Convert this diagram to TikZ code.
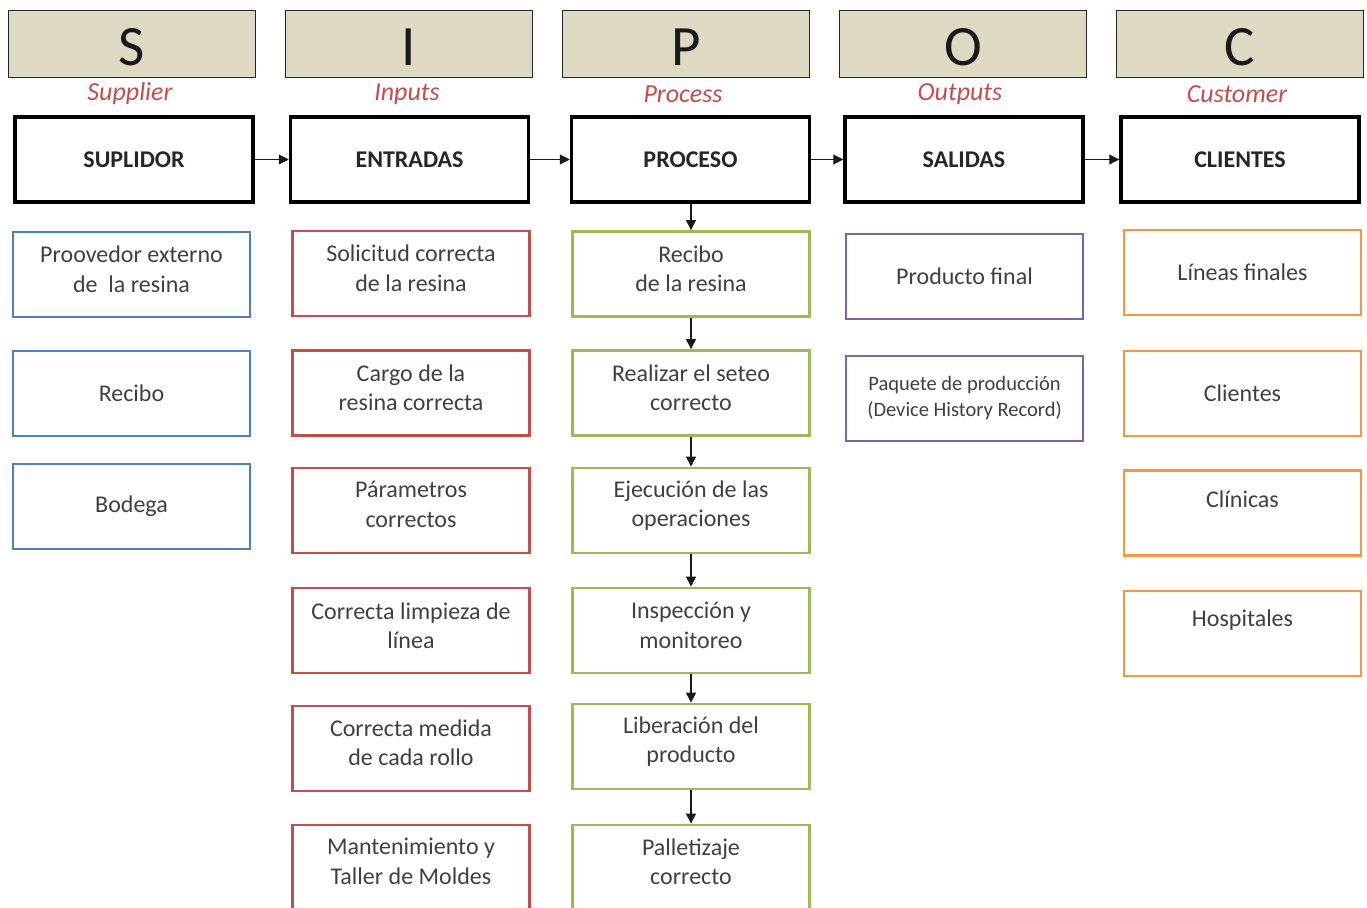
\documentclass[tikz,border=0pt]{standalone}
\usepackage{fontspec}
\setmainfont{Carlito}
\usetikzlibrary{arrows.meta}
\definecolor{tanc}{HTML}{DDD9C3}
\definecolor{bluec}{HTML}{4F81BD}
\definecolor{redc}{HTML}{C0504D}
\definecolor{greenc}{HTML}{9BBB59}
\definecolor{purplec}{HTML}{8064A2}
\definecolor{orangec}{HTML}{F79646}
\definecolor{txt}{HTML}{404040}
\tikzset{
  hdr/.style={draw=black!85, line width=1.8pt, fill=tanc, minimum width=247pt, minimum height=67pt, inner sep=0pt},
  hdrtxt/.style={inner sep=0pt, font=\fontsize{57}{60}\selectfont, text=black!90},
  sub/.style={font=\fontsize{26}{28}\selectfont\itshape, text=redc, inner sep=0pt},
  mainbox/.style={draw=black, line width=3.5pt, minimum width=238pt, minimum height=85pt, inner sep=0pt, font=\fontsize{24}{28}\selectfont\bfseries, text=black!85},
  item/.style={line width=2.8pt, minimum width=237pt, minimum height=85pt, inner sep=0pt},
  itxt/.style={inner sep=0pt, align=center, font=\fontsize{24}{29.5}\selectfont, text=txt},
  bitem/.style={item, draw=bluec},
  ritem/.style={item, draw=redc},
  gitem/.style={item, draw=greenc},
  pitem/.style={item, draw=purplec},
  oitem/.style={item, draw=orangec},
  arr/.style={draw=black!90, line width=1.1pt, -{Triangle[length=10pt,width=10pt]}}
}
\begin{document}
\begin{tikzpicture}[x=1pt,y=-1pt]
\clip (0,0) rectangle (1367,907);
\fill[white] (0,0) rectangle (1367,907);
% headers
\node[hdr] (hS) at (132,44) {};
\node[hdr] (hI) at (409,44) {};
\node[hdr] (hP) at (686,44) {};
\node[hdr] (hO) at (963,44) {};
\node[hdr] (hC) at (1240,44) {};
\node[hdrtxt] (hSt) at ([yshift=-3pt]hS.center) {S};
\node[hdrtxt] (hIt) at ([yshift=-3pt]hI.center) {I};
\node[hdrtxt] (hPt) at ([yshift=-3pt]hP.center) {P};
\node[hdrtxt] (hOt) at ([yshift=-3pt]hO.center) {O};
\node[hdrtxt] (hCt) at ([yshift=-3pt]hC.center) {C};
% subtitles
\node[sub] (sS) at (130,94) {Supplier};
\node[sub] (sI) at (407,94) {Inputs};
\node[sub] (sP) at (683,94) {Process};
\node[sub] (sO) at (960,94) {Outputs};
\node[sub] (sC) at (1237,94) {Customer};
% main boxes
\node[mainbox] (mS) at (134,159.5) {SUPLIDOR};
\node[mainbox] (mI) at (409.5,159.5) {ENTRADAS};
\node[mainbox] (mP) at (690.5,159.5) {PROCESO};
\node[mainbox] (mO) at (964,159.5) {SALIDAS};
\node[mainbox] (mC) at (1240,159.5) {CLIENTES};
\draw[arr] (mS) -- (mI);
\draw[arr] (mI) -- (mP);
\draw[arr] (mP) -- (mO);
\draw[arr] (mO) -- (mC);
% suppliers
\node[bitem] (b1) at (131.5,274.5) {};
\node[itxt] (b1t) at ([yshift=5pt]b1.center) {Proovedor externo\\de\ \ la resina};
\node[bitem] (b2) at (131.5,393.5) {};
\node[itxt] (b2t) at (b2.center) {Recibo};
\node[bitem] (b3) at (131.5,506.5) {};
\node[itxt] (b3t) at (b3.center) {Bodega};
% inputs
\node[ritem] (r1) at (411,273.5) {};
\node[itxt] (r1t) at ([yshift=5pt]r1.center) {Solicitud correcta\\de la resina};
\node[ritem] (r2) at (411,393) {};
\node[itxt] (r2t) at ([yshift=5pt]r2.center) {Cargo de la\\resina correcta};
\node[ritem] (r3) at (411,510.5) {};
\node[itxt] (r3t) at ([yshift=6pt]r3.center) {Párametros\\correctos};
\node[ritem] (r4) at (411,630.5) {};
\node[itxt] (r4t) at ([yshift=5pt]r4.center) {Correcta limpieza de\\línea};
\node[ritem] (r5) at (411,748.5) {};
\node[itxt] (r5t) at ([yshift=6pt]r5.center) {Correcta medida\\de cada rollo};
\node[ritem] (r6) at (411,867.5) {};
\node[itxt] (r6t) at ([yshift=6pt]r6.center) {Mantenimiento y\\Taller de Moldes};
% process
\node[gitem] (g1) at (691,274) {};
\node[itxt] (g1t) at ([yshift=5pt]g1.center) {Recibo\\de la resina};
\node[gitem] (g2) at (691,393) {};
\node[itxt] (g2t) at ([yshift=5pt]g2.center) {Realizar el seteo\\correcto};
\node[gitem] (g3) at (691,510.5) {};
\node[itxt] (g3t) at ([yshift=5pt]g3.center) {Ejecución de las\\operaciones};
\node[gitem] (g4) at (691,630.5) {};
\node[itxt] (g4t) at ([yshift=5pt]g4.center) {Inspección y\\monitoreo};
\node[gitem] (g5) at (691,746.5) {};
\node[itxt] (g5t) at ([yshift=5pt]g5.center) {Liberación del\\producto};
\node[gitem] (g6) at (691,867.5) {};
\node[itxt] (g6t) at ([yshift=6pt]g6.center) {Palletizaje\\correcto};
\draw[arr] (mP.south -| g1.north) -- (g1.north);
\draw[arr] (g1) -- (g2);
\draw[arr] (g2) -- (g3);
\draw[arr] (g3) -- (g4);
\draw[arr] (g4) -- (g5);
\draw[arr] (g5) -- (g6);
% outputs
\node[pitem] (p1) at (964.5,276.5) {};
\node[itxt] (p1t) at (p1.center) {Producto final};
\node[pitem] (p2) at (964.5,398.5) {};
\node[itxt, font=\fontsize{20.5}{26}\selectfont] (p2t) at (p2.center) {Paquete de producción\\(Device History Record)};
% customers
\node[oitem] (o1) at (1242.5,272.5) {};
\node[itxt] (o1t) at (o1.center) {Líneas finales};
\node[oitem] (o2) at (1242.5,393.5) {};
\node[itxt] (o2t) at (o2.center) {Clientes};
\node[oitem] (o3) at (1242.5,513) {};
\node[itxt] (o3t) at ([yshift=14pt]o3.center) {Clínicas};
\node[oitem] (o4) at (1242.5,633.5) {};
\node[itxt] (o4t) at ([yshift=13pt]o4.center) {Hospitales};
\end{tikzpicture}
\end{document}
